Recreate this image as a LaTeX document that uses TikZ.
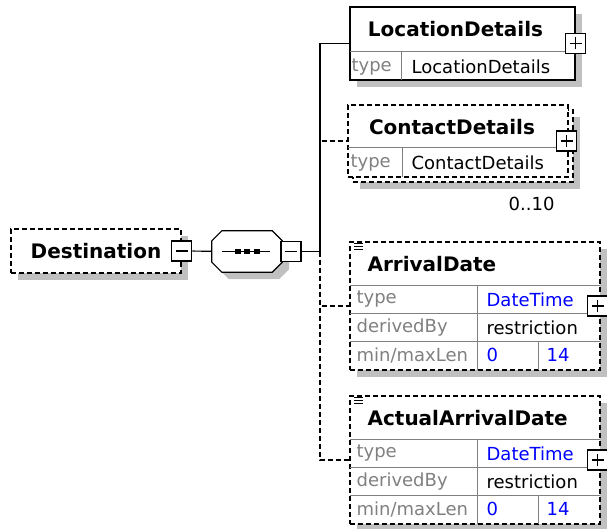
\documentclass[tikz,border=0pt]{standalone}
\usepackage{fontspec}
\setmainfont{DejaVu Sans}
\usetikzlibrary{shadows,calc}
\definecolor{shade}{HTML}{C0C0C0}
\definecolor{lbl}{HTML}{808080}
\definecolor{val}{HTML}{0000FF}

\begin{document}
\begin{tikzpicture}[x=1pt,y=-1pt,
    box/.style={draw,fill=white,line width=1.2pt,inner sep=0pt},
    shd/.style={general shadow={fill=shade,shadow xshift=7pt,shadow yshift=-7pt}},
    opt/.style={dash pattern=on 5pt off 3pt},
    link/.style={line width=1.2pt},
    grid/.style={draw=lbl,line width=1pt},
    ttl/.style={font=\fontsize{20}{24}\selectfont\bfseries,inner sep=0pt},
    txt/.style={font=\fontsize{18}{22}\selectfont,inner sep=0pt},
    key/.style={txt,text=lbl,anchor=west},
    minus/.style={box,line width=1.5pt,minimum size=20pt,path picture={\draw[line width=1.6pt]
        ([xshift=4pt]path picture bounding box.west) -- ([xshift=-4pt]path picture bounding box.east);}},
    plus/.style={box,line width=1.5pt,minimum size=20pt,path picture={\draw[line width=1.6pt]
        ([xshift=4pt]path picture bounding box.west) -- ([xshift=-4pt]path picture bounding box.east)
        ([yshift=4pt]path picture bounding box.south) -- ([yshift=-4pt]path picture bounding box.north);}}]
  \useasboundingbox (0,0) rectangle (607,529);

  % root element and sequence
  \node[box,opt,shd,ttl,minimum width=170pt,minimum height=44pt] (dest) at (96,251) {Destination};
  \node[minus] (destm) at (dest.east) {};
  \node[inner sep=0pt,minimum width=70pt,minimum height=41pt] (seq) at (247,251.5) {};
  \path[box,shd] ($(seq.north west)+(0,10)$) -- ($(seq.north west)+(10,0)$)
    -- ($(seq.north east)+(-10,0)$) -- ($(seq.north east)+(0,10)$)
    -- ($(seq.south east)+(0,-10)$) -- ($(seq.south east)+(-10,0)$)
    -- ($(seq.south west)+(10,0)$) -- ($(seq.south west)+(0,-10)$) -- cycle;
  \draw[link] ([xshift=10pt]seq.west) -- ([xshift=-12pt]seq.east);
  \foreach \dx in {-9.5,0,9.5}
    \fill ([xshift=\dx pt]seq.center) +(-3,-2.5) rectangle +(3,2.5);
  \node[minus,anchor=west] (seqm) at ([xshift=-2pt]seq.east) {};
  \coordinate (hub) at (320,251.5);

  % LocationDetails
  \node[box,shd,minimum width=225pt,minimum height=73pt] (loc) at (462.5,43.5) {};
  \node[ttl] at ($(loc.north)+(-7,23)$) {LocationDetails};
  \draw[grid] ($(loc.north west)+(0.6,45)$) -- ($(loc.north east)+(-0.6,45)$);
  \draw[grid] ($(loc.north west)+(52,45)$) -- ($(loc.south west)+(52,-0.6)$);
  \node[key] at ($(loc.south west)+(2,-14)$) {type};
  \node[txt,anchor=west] at ($(loc.south west)+(62,-14)$) {LocationDetails};
  \node[plus] (locp) at (loc.east) {};

  % ContactDetails (0..10)
  \node[box,opt,shd,minimum width=220pt,minimum height=72pt] (contbk) at (463,146) {};
  \node[box,opt,minimum width=220pt,minimum height=72pt] (cont) at (458,141) {};
  \node[ttl] at ($(cont.north)+(-6,23)$) {ContactDetails};
  \draw[grid] ($(cont.north west)+(0.6,43)$) -- ($(cont.north east)+(-0.6,43)$);
  \draw[grid] ($(cont.north west)+(55,43)$) -- ($(cont.south west)+(55,-0.6)$);
  \node[key] at ($(cont.south west)+(3,-14.5)$) {type};
  \node[txt,anchor=west] at ($(cont.south west)+(64,-14.5)$) {ContactDetails};
  \node[plus] (contp) at ([xshift=-2pt]cont.east) {};
  \node[txt] (occ) at ($(contbk.south east)+(-42,21.5)$) {0..10};

  % ArrivalDate, ActualArrivalDate
  \foreach \n/\y/\t in {arr/306/ArrivalDate,act/460/ActualArrivalDate}{
    \node[box,opt,shd,minimum width=250pt,minimum height=128pt] (\n) at (475,\y) {};
    \foreach \k in {0,3,6}
      \draw[line width=0.9pt] ($(\n.north west)+(5,2.5+\k)$) -- ++(9,0);
    \node[ttl,anchor=west] at ($(\n.north west)+(18,23)$) {\t};
    \foreach \r in {44,72,100}
      \draw[grid] ($(\n.north west)+(0.6,\r)$) -- ($(\n.north east)+(-0.6,\r)$);
    \draw[grid] ($(\n.north west)+(128,44)$) -- ($(\n.south west)+(128,-0.6)$);
    \draw[grid] ($(\n.north west)+(189,100)$) -- ($(\n.south west)+(189,-0.6)$);
    \node[key] at ($(\n.north west)+(7,58)$) {type};
    \node[key] at ($(\n.north west)+(7,86)$) {derivedBy};
    \node[key] at ($(\n.north west)+(7,114)$) {min/maxLen};
    \node[txt,text=val,anchor=west] at ($(\n.north west)+(137,58)$) {DateTime};
    \node[txt,anchor=west] at ($(\n.north west)+(137,86)$) {restriction};
    \node[txt,text=val,anchor=west] at ($(\n.north west)+(137,114)$) {0};
    \node[txt,text=val,anchor=west] at ($(\n.north west)+(197,114)$) {14};
    \node[plus] (\n p) at ([xshift=-3pt]\n.east) {};
  }

  % connectors
  \draw[link] (destm) -- (seq);
  \draw[link] (seqm) -- (hub);
  \draw[link] (hub) |- (loc.west);
  \draw[link,opt] (hub) |- (cont.west);
  \draw[link,opt] (hub) |- (arr.west);
  \draw[link,opt] (hub) |- (act.west);
\end{tikzpicture}
\end{document}
